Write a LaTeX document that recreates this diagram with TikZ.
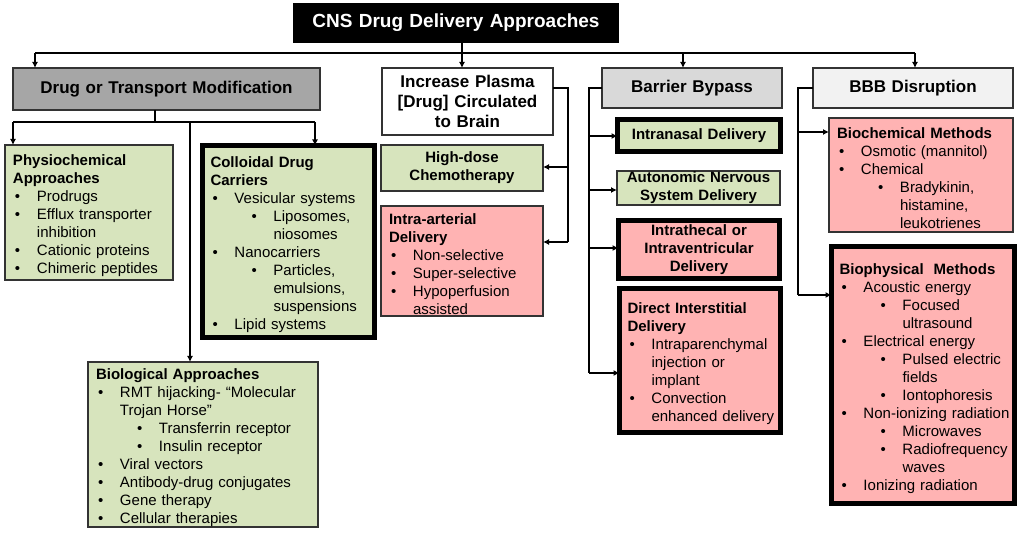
\documentclass[tikz,border=0pt]{standalone}
\usepackage{fontspec}
\setmainfont{Liberation Sans}
\usetikzlibrary{arrows.meta}
\definecolor{gfill}{HTML}{D7E4BD}
\definecolor{pfill}{HTML}{FFB3B3}
\definecolor{grayA}{HTML}{A6A6A6}
\definecolor{grayB}{HTML}{D9D9D9}
\definecolor{grayC}{HTML}{F2F2F2}
\definecolor{edgec}{HTML}{333333}
\newcommand\xHd[1]{\par\noindent\hbox{\hspace*{8pt}\bfseries #1}}
\newcommand\xBa[1]{\par\noindent\hbox{\hspace*{10pt}\makebox[22pt][l]{•}#1}}
\newcommand\xBc[1]{\par\noindent\hbox{\hspace*{32pt}#1}}
\newcommand\xBb[1]{\par\noindent\hbox{\hspace*{49pt}\makebox[22pt][l]{•}#1}}
\newcommand\xBd[1]{\par\noindent\hbox{\hspace*{71pt}#1}}
\tikzset{
 bx/.style={draw=edgec, line width=1.3pt, inner sep=0pt, outer sep=0pt, anchor=north west, align=left, font=\fontsize{15}{18}\selectfont},
 wh/.style 2 args={minimum width=#1pt, text width=#1pt, minimum height=#2pt},
 thickb/.style={draw=black, line width=5pt},
 ctr/.style={align=center, font=\fontsize{15}{18}\selectfont\bfseries},
 hdr/.style={align=center, font=\fontsize{17}{20}\selectfont\bfseries},
 conn/.style={line width=1.8pt, draw=black},
 arr/.style={conn, -{Latex[length=6pt,width=6pt]}},
}
\begin{document}
\begin{tikzpicture}[x=1pt,y=-1pt]
\useasboundingbox (0,0) rectangle (1021,534);
% top level
\node[bx, wh={326}{40}, fill=black, draw=none, align=center, font=\fontsize{19}{23}\selectfont\bfseries, text=white] (T) at (293,3) {CNS Drug Delivery Approaches};
\node[bx, wh={307}{42}, fill=grayA, hdr] (DTM) at (13,68) {Drug or Transport Modification};
\node[bx, wh={171}{67}, fill=white, hdr] (IP) at (382,68) {Increase Plasma\\{}[Drug] Circulated\\to Brain};
\node[bx, wh={180}{40}, fill=grayB, hdr] (BB) at (602,68) {Barrier Bypass};
\node[bx, wh={200}{40}, fill=grayC, hdr] (BBB) at (813,68) {BBB Disruption};
% drug or transport modification
\node[bx, wh={168}{135}, fill=gfill] (PH) at (5,145) {\xHd{Physiochemical}\xHd{Approaches}\xBa{Prodrugs}\xBa{Efflux transporter}\xBc{inhibition}\xBa{Cationic proteins}\xBa{Chimeric peptides}};
\node[bx, thickb, wh={172}{192}, fill=gfill] (CO) at (202.5,145.5) {\xHd{Colloidal Drug}\xHd{Carriers}\xBa{Vesicular systems}\xBb{Liposomes,}\xBd{niosomes}\xBa{Nanocarriers}\xBb{Particles,}\xBd{emulsions,}\xBd{suspensions}\xBa{Lipid systems}};
\node[bx, wh={230}{165}, fill=gfill] (BI) at (88,362) {\xHd{Biological Approaches}\xBa{RMT hijacking- “Molecular}\xBc{Trojan Horse”}\xBb{Transferrin receptor}\xBb{Insulin receptor}\xBa{Viral vectors}\xBa{Antibody-drug conjugates}\xBa{Gene therapy}\xBa{Cellular therapies}};
% increase plasma
\node[bx, wh={162}{46}, fill=gfill, ctr] (HD) at (381,145) {High-dose\\Chemotherapy};
\node[bx, wh={162}{110}, fill=pfill] (IA) at (381,206) {\xHd{Intra-arterial}\xHd{Delivery}\xBa{Non-selective}\xBa{Super-selective}\xBa{Hypoperfusion}\xBc{assisted}};
% barrier bypass
\node[bx, thickb, wh={163}{32}, fill=gfill, ctr] (IN) at (617.5,119.5) {Intranasal Delivery};
\node[bx, wh={163}{34}, fill=gfill, ctr] (AN) at (617,171) {Autonomic Nervous\\System Delivery};
\node[bx, thickb, wh={161}{58}, fill=pfill, ctr] (IT) at (618.5,220.5) {Intrathecal or\\Intraventricular\\Delivery};
\node[bx, thickb, wh={161}{144}, fill=pfill] (DI) at (619.5,288.5) {\xHd{Direct Interstitial}\xHd{Delivery}\xBa{Intraparenchymal}\xBc{injection or}\xBc{implant}\xBa{Convection}\xBc{enhanced delivery}};
% BBB disruption
\node[bx, wh={184}{114}, fill=pfill] (BC) at (829,118) {\xHd{Biochemical Methods}\xBa{Osmotic (mannitol)}\xBa{Chemical}\xBb{Bradykinin,}\xBd{histamine,}\xBd{leukotrienes}};
\node[bx, thickb, wh={183}{257}, fill=pfill] (BP) at (831.5,246.5) {\xHd{Biophysical\ \ Methods}\xBa{Acoustic energy}\xBb{Focused}\xBd{ultrasound}\xBa{Electrical energy}\xBb{Pulsed electric}\xBd{fields}\xBb{Iontophoresis}\xBa{Non-ionizing radiation}\xBb{Microwaves}\xBb{Radiofrequency}\xBd{waves}\xBa{Ionizing radiation}};
% main bar
\coordinate (barL) at (35,53);
\coordinate (barR) at (915,53);
\coordinate (ipx) at (462,53);
\coordinate (bbx) at (683,53);
\draw[conn] (barL) -- (barR);
\draw[arr] (barL) -- (barL |- DTM.north);
\draw[arr] (T.south -| ipx) -- (ipx |- IP.north);
\draw[arr] (bbx) -- (bbx |- BB.north);
\draw[arr] (barR) -- (barR |- BBB.north);
% DTM branches
\coordinate (dj) at (155,122);
\coordinate (dL) at (13,122);
\coordinate (dR) at (315,122);
\coordinate (dM) at (190,122);
\draw[conn] (DTM.south -| dj) -- (dj);
\draw[conn] (dL) -- (dR);
\draw[arr] (dL) -- (dL |- PH.north);
\draw[arr] (dR) -- (dR |- CO.north);
\draw[arr] (dM) -- (dM |- BI.north);
% IP branches
\coordinate (ipT) at (568,88);
\coordinate (ipA) at (568,167);
\coordinate (ipB) at (568,242);
\draw[conn] (IP.east |- ipT) -- (ipT) -- (ipB);
\draw[arr] (ipA) -- (ipA -| HD.east);
\draw[arr] (ipB) -- (ipB -| IA.east);
% BB branches
\coordinate (bbT) at (589,88);
\coordinate (bb1) at (589,136);
\coordinate (bb2) at (589,190);
\coordinate (bb3) at (589,248);
\coordinate (bb4) at (589,373);
\draw[conn] (BB.west |- bbT) -- (bbT) -- (bb4);
\draw[arr] (bb1) -- (bb1 -| IN.west);
\draw[arr] (bb2) -- (bb2 -| AN.west);
\draw[arr] (bb3) -- (bb3 -| IT.west);
\draw[arr] (bb4) -- (bb4 -| DI.west);
% BBB branches
\coordinate (zT) at (798,88);
\coordinate (z1) at (798,132);
\coordinate (z2) at (798,295);
\draw[conn] (BBB.west |- zT) -- (zT) -- (z2);
\draw[arr] (z1) -- (z1 -| BC.west);
\draw[arr] (z2) -- (z2 -| BP.west);
\end{tikzpicture}
\end{document}
